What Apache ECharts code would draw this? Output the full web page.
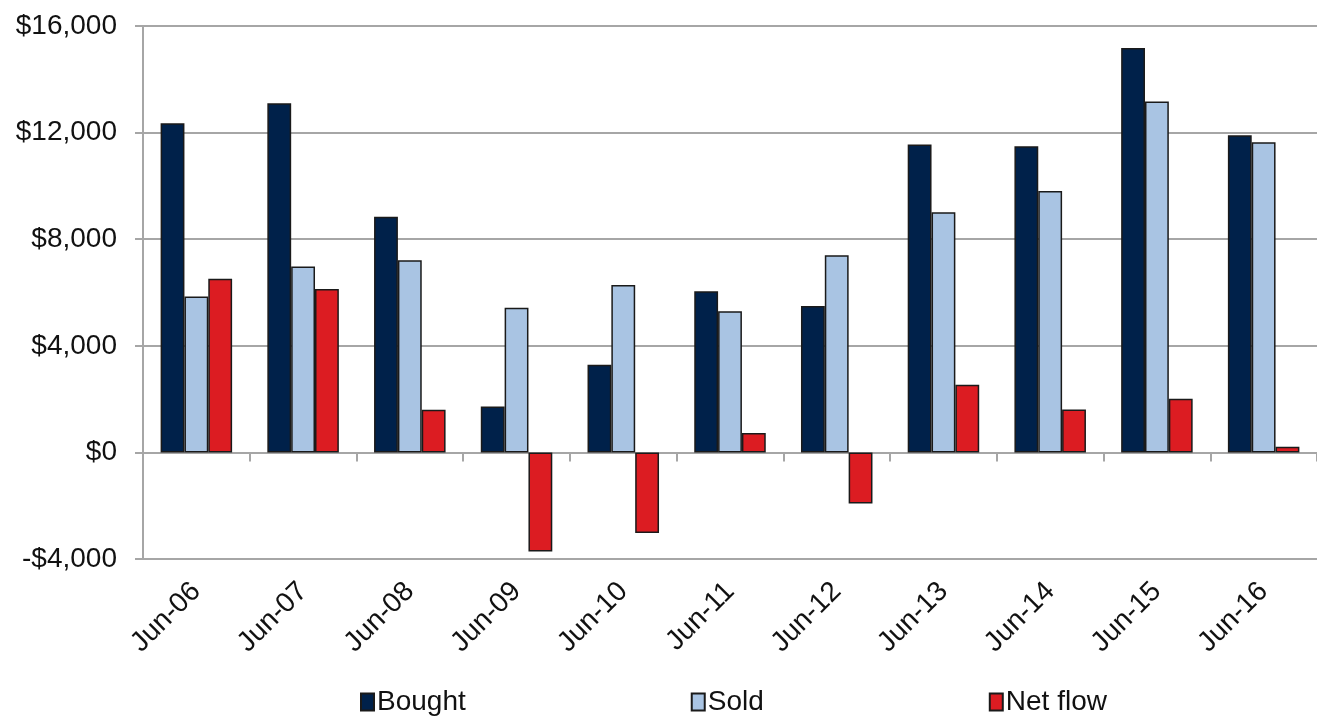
<!DOCTYPE html>
<html>
<head>
<meta charset="utf-8">
<script src="https://cdn.jsdelivr.net/npm/echarts@6/dist/echarts.min.js"></script>
<style>
  html, body { margin: 0; padding: 0; background: #fff; }
  #chart { width: 1317px; height: 718px; }
</style>
</head>
<body>
<div id="chart"></div>
<script>
// data
const categories = ['Jun-06', 'Jun-07', 'Jun-08', 'Jun-09', 'Jun-10', 'Jun-11',
                    'Jun-12', 'Jun-13', 'Jun-14', 'Jun-15', 'Jun-16'];
const bought  = [12350, 13100, 8840, 1720, 3290, 6050, 5490, 11550, 11490, 15170, 11900];
const sold    = [5850, 6980, 7210, 5430, 6280, 5300, 7400, 9010, 9810, 13170, 11640];
const netFlow = [6520, 6130, 1600, -3720, -3020, 730, -1920, 2540, 1610, 2010, 210];
const yTicks = { min: -4000, max: 16000, step: 4000 };

const textColor = '#111';
const gridColor = '#a6a6a6';
const font = 'Liberation Sans, Arial, sans-serif';

function money(v) {
  const s = '$' + Math.abs(v).toLocaleString('en-US');
  return v < 0 ? '-' + s : s;
}

const chart = echarts.init(document.getElementById('chart'));

const barStyle = (color) => ({
  color: color,
  borderColor: '#1a1a1a',
  borderWidth: 1.5
});

chart.setOption({
  animation: false,
  textStyle: { fontFamily: font },
  grid: { left: 143, top: 26, width: 1187, height: 533, containLabel: false },
  legend: {
    left: 355,
    top: 683,
    itemGap: 225,
    itemWidth: 13,
    itemHeight: 17,
    icon: 'rect',
    textStyle: { fontSize: 28, color: textColor, fontFamily: font, padding: [0, 0, 0, -2] },
    data: ['Bought', 'Sold', 'Net flow']
  },
  xAxis: [
    {
      // zero line with ticks between the months
      type: 'category',
      data: categories,
      axisLine: { onZero: true, lineStyle: { color: gridColor, width: 2 } },
      axisTick: { show: true, length: 9, lineStyle: { color: gridColor, width: 2 } },
      axisLabel: { show: false }
    },
    {
      // month labels along the bottom
      type: 'category',
      position: 'bottom',
      data: categories,
      axisLine: { show: false, onZero: false },
      axisTick: { show: false },
      axisLabel: {
        rotate: 45,
        margin: 28,
        fontSize: 28,
        color: textColor,
        fontFamily: font
      }
    }
  ],
  yAxis: {
    type: 'value',
    min: yTicks.min,
    max: yTicks.max,
    interval: yTicks.step,
    axisLine: { show: true, lineStyle: { color: gridColor, width: 2 } },
    axisTick: { show: true, length: 8, lineStyle: { color: gridColor, width: 2 } },
    splitLine: { lineStyle: { color: gridColor, width: 2 } },
    axisLabel: {
      formatter: money,
      fontSize: 28,
      color: textColor,
      margin: 26,
      fontFamily: font
    }
  },
  series: [
    {
      name: 'Bought', type: 'bar', data: bought,
      barGap: '0%', barCategoryGap: '33%',
      itemStyle: barStyle('#00214a')
    },
    {
      name: 'Sold', type: 'bar', data: sold,
      itemStyle: barStyle('#a9c4e3')
    },
    {
      name: 'Net flow', type: 'bar', data: netFlow,
      itemStyle: barStyle('#dc1c22')
    }
  ]
});
</script>
</body>
</html>
